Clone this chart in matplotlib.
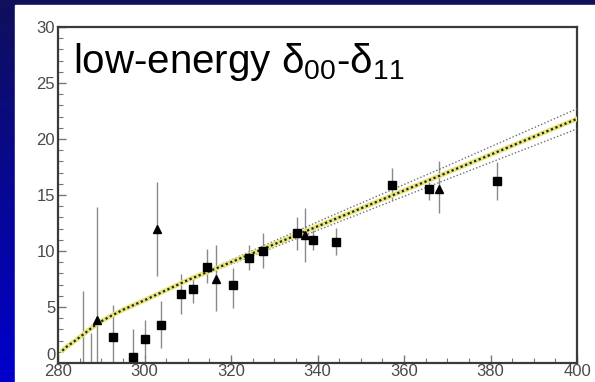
import numpy as np
import matplotlib
matplotlib.use("Agg")
import matplotlib.pyplot as plt
import matplotlib.transforms as mtransforms
from matplotlib.ticker import MultipleLocator

plt.rcParams["mathtext.fontset"] = "custom"
plt.rcParams["mathtext.rm"] = "Liberation Sans"
plt.rcParams["mathtext.it"] = "Liberation Sans"
plt.rcParams["mathtext.default"] = "regular"

# Square-marker measurements: x, value, upper error end, lower error end
sq_x = [292.7, 297.3, 300.2, 303.9, 308.4, 311.2, 314.5, 320.5, 324.2, 327.3,
        335.3, 339.0, 344.2, 357.3, 365.8, 381.6]
sq_y = [2.35, 0.5, 2.14, 3.39, 6.13, 6.58, 8.54, 6.96, 9.35, 10.0,
        11.58, 10.98, 10.83, 15.9, 15.54, 16.28]
sq_hi = [5.18, 3.0, 3.84, 5.5, 7.95, 7.9, 10.2, 8.45, 10.5, 11.6,
         13.06, 11.9, 12.05, 17.4, 16.2, 17.98]
sq_lo = [-0.5, -1.0, 0.56, 1.3, 4.4, 5.35, 7.1, 4.88, 8.3, 8.45,
         10.1, 10.1, 9.64, 14.55, 14.55, 14.55]

# Triangle-marker measurements
tr_x = [285.8, 287.7, 289.1, 302.9, 316.5, 337.1, 368.1]
tr_y = [-1.0, -1.0, 3.84, 11.93, 7.47, 11.43, 15.5]
tr_hi = [6.46, 2.7, 13.96, 16.2, 10.5, 13.8, 18.0]
tr_lo = [-8.0, -4.0, -1.0, 7.77, 4.6, 9.0, 13.4]

# Prediction curve and its uncertainty band
fit_x = [281, 282, 284, 286, 289, 292, 295, 300, 305, 310, 320, 330, 340, 350,
         360, 370, 380, 390, 400]
fit_y = [1.1, 1.45, 2.0, 2.6, 3.5, 4.15, 4.75, 5.6, 6.5, 7.4, 9.0, 10.6, 12.2,
         13.8, 15.4, 17.0, 18.6, 20.2, 21.8]
band_x = [305, 310, 343, 370, 400]
band_hi = [6.55, 7.5, 13.1, 17.6, 22.7]
band_lo = [6.45, 7.3, 12.3, 16.4, 20.9]

x_ticks = [280, 300, 320, 340, 360, 380, 400]
y_ticks = [0, 5, 10, 15, 20, 25, 30]

W, H = 595, 382
fig = plt.figure(figsize=(W / 100, H / 100), dpi=100)

# blue gradient backdrop and white canvas
bg = fig.add_axes([0, 0, 1, 1], zorder=-2)
grad = np.linspace(0, 1, 256)[:, None]
top_c = np.array([0.06, 0.06, 0.36])
bot_c = np.array([0.0, 0.0, 0.80])
img = top_c[None, None, :] * (1 - grad[..., None]) + bot_c[None, None, :] * grad[..., None]
bg.imshow(np.repeat(img, 2, axis=1), aspect="auto", extent=[0, 1, 0, 1], origin="upper")
bg.add_patch(plt.Rectangle((15 / W, 0), 1 - 15 / W, 1 - 5 / H, color="white", zorder=2))
bg.set_xlim(0, 1)
bg.set_ylim(0, 1)
bg.axis("off")

ax = fig.add_axes([58 / W, (H - 363) / H, (577 - 58) / W, (363 - 27) / H])
ax.set_facecolor("none")
ax.set_xlim(280, 400)
ax.set_ylim(0, 30)

# error bars
for xs, ys, hi, lo in ((sq_x, sq_y, sq_hi, sq_lo), (tr_x, tr_y, tr_hi, tr_lo)):
    ax.vlines(xs, lo, hi, color="#8a8a8a", lw=1.0, zorder=2)

# band limits
ax.plot(band_x, band_hi, ls=(0, (1, 1.5)), color="#707070", lw=1.0, zorder=3)
ax.plot(band_x, band_lo, ls=(0, (1, 1.5)), color="#707070", lw=1.0, zorder=3)

# central curve: yellow underlay with black dots
ax.plot(fit_x, fit_y, color="#e6e67a", lw=3.5, solid_capstyle="round", zorder=3)
ax.plot(fit_x, fit_y, color="#222222", lw=1.6, ls=(0, (1, 1.2)), zorder=4)

ax.plot(sq_x, sq_y, "s", color="black", ms=5.5, zorder=5)
ax.plot(tr_x, tr_y, "^", color="black", ms=5.5, zorder=5)

ax.set_xticks(x_ticks)
ax.set_yticks(y_ticks)
ax.xaxis.set_minor_locator(MultipleLocator(5))
ax.yaxis.set_minor_locator(MultipleLocator(1))
ax.tick_params(which="both", direction="in", colors="#777777", labelcolor="#4a4a4a",
               top=False, right=False)
ax.tick_params(which="major", length=6, width=1.0, labelsize=12, pad=1)
ax.tick_params(axis="y", which="major", pad=2)
ax.tick_params(which="minor", length=3.5, width=0.8)
for lab in ax.get_xticklabels() + ax.get_yticklabels():
    lab.set_family("Liberation Sans")

# lift the bottom y label so it clears the first x label
zero_lab = ax.get_yticklabels()[0]
zero_lab.set_transform(zero_lab.get_transform()
                       + mtransforms.ScaledTranslation(0, 6.5 / 72, fig.dpi_scale_trans))

for s in ax.spines.values():
    s.set_color("#3a3a3a")
    s.set_linewidth(1.6)

ax.text(73 / W, (H - 73) / H, r"low-energy $\delta_{00}$-$\delta_{11}$",
        transform=fig.transFigure, fontsize=29, family="Liberation Sans",
        color="black", ha="left", va="baseline")

fig.savefig("out.png", dpi=100)
